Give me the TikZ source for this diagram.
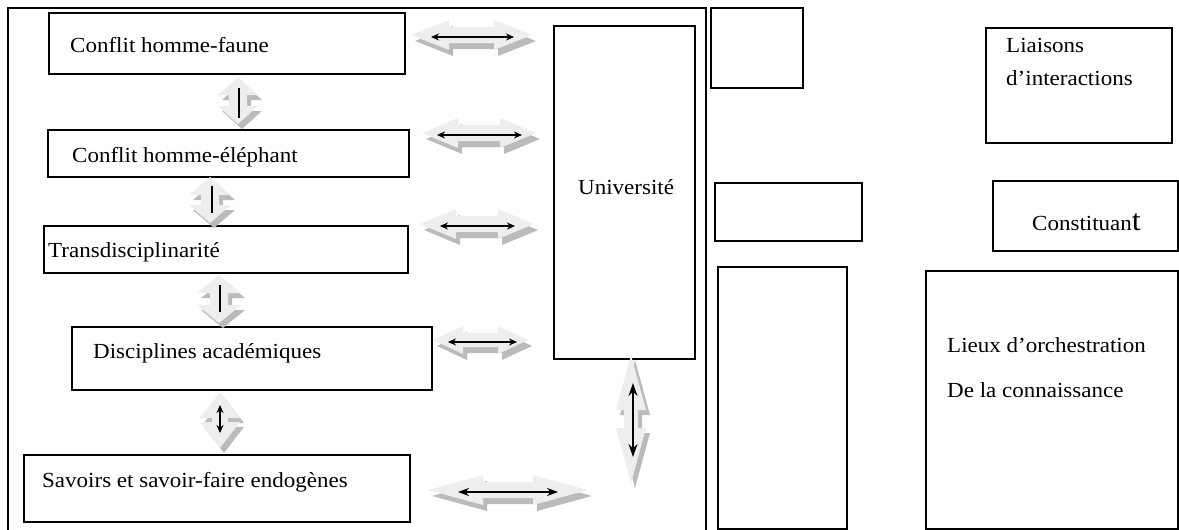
\documentclass[tikz,border=0pt]{standalone}
\usepackage{fontspec}
\setmainfont[FakeStretch=1.07]{Liberation Serif}
\usetikzlibrary{arrows.meta}
\definecolor{blkfillc}{HTML}{EEEEEE}
\definecolor{blkshadowc}{HTML}{BBBBBB}
\newcommand\HBone[7]{\fill[#7] (#1,#3) -- ({#1+#4},{#3-#5}) -- ({#1+#4},{#3-#6}) -- ({#2-#4},{#3-#6}) -- ({#2-#4},{#3-#5}) -- (#2,#3) -- ({#2-#4},{#3+#5}) -- ({#2-#4},{#3+#6}) -- ({#1+#4},{#3+#6}) -- ({#1+#4},{#3+#5}) -- cycle;}
\newcommand\HB[6]{\HBone{#1}{#2}{#3}{#4}{#5}{#6}{blkshadow,shift={(4,6)}}\HBone{#1}{#2}{#3}{#4}{#5}{#6}{blkfill}}
\newcommand\VBone[7]{\fill[#7] (#3,#1) -- ({#3-#5},{#1+#4}) -- ({#3-#6},{#1+#4}) -- ({#3-#6},{#2-#4}) -- ({#3-#5},{#2-#4}) -- (#3,#2) -- ({#3+#5},{#2-#4}) -- ({#3+#6},{#2-#4}) -- ({#3+#6},{#1+#4}) -- ({#3+#5},{#1+#4}) -- cycle;}
\newcommand\VB[6]{\VBone{#1}{#2}{#3}{#4}{#5}{#6}{blkshadow,shift={(4,5)}}\VBone{#1}{#2}{#3}{#4}{#5}{#6}{blkfill}}
\newcommand\boxnode[5]{\node[box, anchor=north west, minimum width={#4-#2}, minimum height={#5-#3}] (#1) at (#2,#3) {};}
\begin{document}
\begin{tikzpicture}[x=1pt,y=-1pt,
  box/.style={draw=black, line width=1.3pt, inner sep=0pt, outer sep=0pt},
  lbl/.style={anchor=base west, inner sep=0pt, font=\fontsize{21.5}{25}\selectfont},
  blkfill/.style={fill=blkfillc},
  blkshadow/.style={fill=blkshadowc},
  blk/.style={line width=1.5pt, {Stealth[length=8pt,width=7pt]}-{Stealth[length=8pt,width=7pt]}},
  blkbig/.style={line width=1.8pt, {Stealth[length=13pt,width=9pt]}-{Stealth[length=13pt,width=9pt]}},
  bar/.style={line width=2.6pt}]
\useasboundingbox (0,0) rectangle (1179,530);
% outer frame
\coordinate (fbl) at (8,535);
\coordinate (ftl) at (8,8);
\coordinate (ftr) at (706,8);
\coordinate (fbr) at (706,535);
\draw[line width=1.3pt] (fbl) -- (ftl) -- (ftr) -- (fbr);
% boxes
\boxnode{b1}{49}{13}{405}{74}
\boxnode{b2}{48}{130}{409}{177}
\boxnode{b3}{44}{226}{408}{273}
\boxnode{b4}{72}{327}{432}{390}
\boxnode{b5}{24}{455}{410}{522}
\boxnode{univ}{554}{26}{695}{359}
\boxnode{sq}{711}{8}{803}{88}
\boxnode{emp}{715}{183}{862}{241}
\boxnode{cons}{993}{181}{1178}{251}
\boxnode{liai}{986}{28}{1172}{143}
\boxnode{tall}{718}{267}{847}{529}
\boxnode{lieux}{926}{271}{1178}{529}
% texts
\node[lbl] (t1) at (70,52) {Conflit homme-faune};
\node[lbl] (t2) at (72,162) {Conflit homme-éléphant};
\node[lbl] (t3) at (48,257) {Transdisciplinarité};
\node[lbl] (t4) at (93,358) {Disciplines académiques};
\node[lbl] (t5) at (42,487) {Savoirs et savoir-faire endogènes};
\node[lbl] (tu) at (578,194) {Université};
\node[lbl] (tl1) at (1006,52) {Liaisons};
\node[lbl] (tl2) at (1006,85) {d’interactions};
\node[lbl] (tc) at (1032,230) {Constituan{\fontsize{30}{30}\selectfont t}};
\node[lbl] (to1) at (947,352) {Lieux d’orchestration};
\node[lbl] (to2) at (947,397) {De la connaissance};
% block arrows
\HB{411}{532}{35}{38}{15}{8}
\HB{422}{536}{133}{36}{15}{8}
\HB{420}{534}{224}{36}{15}{8}
\HB{433}{528}{340}{30}{14}{7}
\HB{428}{588}{490}{55}{15}{8}
\VB{77}{124}{238}{18}{20}{9}
\VB{177}{223}{210}{18}{21}{9}
\VB{275}{323}{219}{18}{22}{9}
\VB{392}{448}{220}{26}{20}{8}
\VB{355}{483}{631}{55}{15}{7}
% inner arrows
\coordinate (h1a) at (431,37); \coordinate (h1b) at (514,37);
\coordinate (h2a) at (437,135); \coordinate (h2b) at (522,135);
\coordinate (h3a) at (440,226); \coordinate (h3b) at (515,226);
\coordinate (h4a) at (448,342); \coordinate (h4b) at (517,342);
\coordinate (h5a) at (458,492); \coordinate (h5b) at (558,492);
\draw[blk] (h1a) -- (h1b);
\draw[blk] (h2a) -- (h2b);
\draw[blk] (h3a) -- (h3b);
\draw[blk, line width=1.2pt] (h4a) -- (h4b);
\draw[blk, {Stealth[length=11pt,width=8pt]}-{Stealth[length=11pt,width=8pt]}] (h5a) -- (h5b);
\coordinate (v1a) at (239,88); \coordinate (v1b) at (239,118);
\coordinate (v2a) at (212,186); \coordinate (v2b) at (212,213);
\coordinate (v3a) at (220,285); \coordinate (v3b) at (220,312);
\coordinate (v4a) at (220,405); \coordinate (v4b) at (220,433);
\coordinate (v5a) at (633,383); \coordinate (v5b) at (633,457);
\draw[bar] (v1a) -- (v1b);
\draw[bar] (v2a) -- (v2b);
\draw[bar] (v3a) -- (v3b);
\draw[blk, line width=1.8pt] (v4a) -- (v4b);
\draw[blkbig] (v5a) -- (v5b);
\end{tikzpicture}
\end{document}
